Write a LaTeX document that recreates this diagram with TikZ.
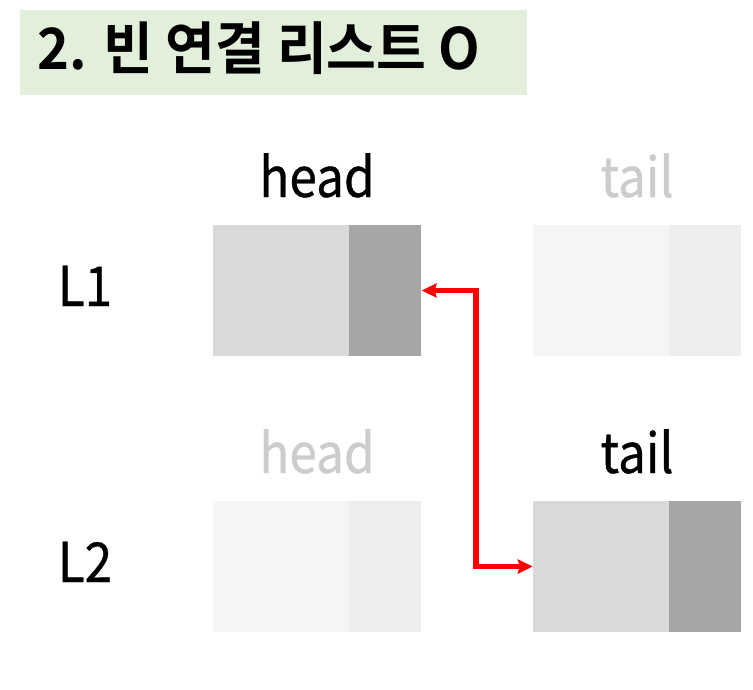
\documentclass[tikz,border=0pt]{standalone}
\usepackage{fontspec}
\setmainfont{Noto Sans CJK KR}
\newfontfamily\lblfont[FakeStretch=0.9,FakeBold=0.6]{Noto Sans CJK KR}
\newfontfamily\titlefont[FakeStretch=0.95]{Noto Sans CJK KR Bold}
\usetikzlibrary{positioning,arrows.meta}
\definecolor{titlegreen}{HTML}{E2EFDA}
\definecolor{lgray}{HTML}{D9D9D9}
\definecolor{dgray}{HTML}{A6A6A6}
\definecolor{fgray}{HTML}{F5F5F5}
\definecolor{fdgray}{HTML}{EDEDED}
\definecolor{ftext}{HTML}{CCCCCC}

\begin{document}
\begin{tikzpicture}[x=1pt,y=-1pt,
        data/.style={rectangle,inner sep=0pt,minimum width=136pt,
          minimum height=131pt,fill=#1},
        link/.style={rectangle,inner sep=0pt,minimum width=72pt,
          minimum height=131pt,fill=#1},
        lbl/.style={font=\lblfont\fontsize{55}{60}\selectfont,anchor=base},
        wire/.style={red,line width=5.5pt,
          {Stealth[length=15pt,width=14pt,inset=2pt]}-{Stealth[length=15pt,width=14pt,inset=2pt]}}]

        \useasboundingbox (0,0) rectangle (753,689);

        \node[fill=titlegreen,anchor=north west,inner sep=0pt,
        minimum width=507pt,minimum height=85pt] (title) at (20,10) {};
        \node[anchor=base west,inner sep=0pt,
        font=\titlefont\fontsize{57}{60}\selectfont] (ttext) at (37,69)
        {2. 빈 연결 리스트 O};

        \node[lbl] (l1) at (85,306) {L1};
        \node[lbl] (l2) at (85,582) {L2};

        \node[lbl] (h1) at (317,197) {head};
        \node[lbl,ftext] (t1) at (637,197) {tail};
        \node[lbl,ftext] (h2) at (317,473) {head};
        \node[lbl] (t2) at (637,473) {tail};

        \node[data=lgray] (h1d) at (281,290.5) {};
        \node[link=dgray,right=0pt of h1d] (h1p) {};
        \node[data=fgray] (t1d) at (601,290.5) {};
        \node[link=fdgray,right=0pt of t1d] (t1p) {};

        \node[data=fgray] (h2d) at (281,566.5) {};
        \node[link=fdgray,right=0pt of h2d] (h2p) {};
        \node[data=lgray] (t2d) at (601,566.5) {};
        \node[link=dgray,right=0pt of t2d] (t2p) {};

        \coordinate (bend) at (476,0);
        \draw[wire] (h1p.east) -- (h1p.east -| bend)
          -- (t2d.west -| bend) -- (t2d.west);
\end{tikzpicture}
\end{document}
